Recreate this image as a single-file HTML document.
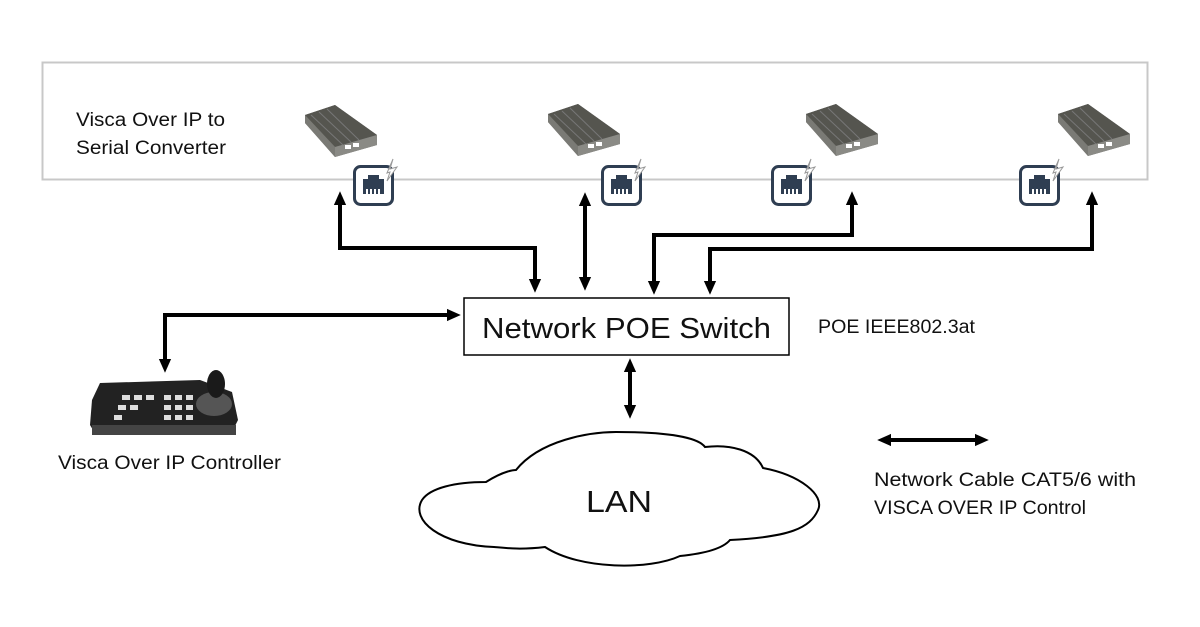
<!DOCTYPE html>
<html><head><meta charset="utf-8"><style>
html,body{margin:0;padding:0;background:#fff;}
svg{display:block;}
text{font-family:"Liberation Sans",sans-serif;fill:#111;}
</style></head><body>
<svg width="1200" height="627" viewBox="0 0 1200 627" xmlns="http://www.w3.org/2000/svg">
<defs>
<marker id="ah" markerWidth="3.5" markerHeight="3.5" refX="1.8" refY="1.75" orient="auto-start-reverse" markerUnits="strokeWidth">
<path d="M0,0.2 L3.5,1.75 L0,3.3 Z" fill="#000"/>
</marker>
<g id="dev">
<polygon points="0,10 30,0 72,30 72,40 30,52 0,18" fill="#6b6b68"/>
<polygon points="0,10 30,0 72,30 30,42" fill="#55554f"/>
<polygon points="30,42 72,30 72,40 30,52" fill="#8a8a85"/>
<polygon points="0,10 30,42 30,52 0,18" fill="#7a7a75"/>
<line x1="6" y1="10" x2="38" y2="40" stroke="#777" stroke-width="1"/>
<line x1="14" y1="7" x2="46" y2="37" stroke="#777" stroke-width="1"/>
<line x1="22" y1="4" x2="54" y2="35" stroke="#777" stroke-width="1"/>
<rect x="40" y="40" width="6" height="4" fill="#fff"/>
<rect x="48" y="38" width="6" height="4" fill="#fff"/>
</g>
<g id="rj">
<rect x="1.5" y="1.5" width="38" height="38" rx="6" fill="#fff" stroke="#2f3e52" stroke-width="3"/>
<path d="M15,10 h11 v4 h5 v15 h-21 v-15 h5 z" fill="#2f3e52"/>
<rect x="13" y="24" width="2" height="5" fill="#fff"/><rect x="17" y="24" width="2" height="5" fill="#fff"/>
<rect x="21" y="24" width="2" height="5" fill="#fff"/><rect x="25" y="24" width="2" height="5" fill="#fff"/>
<path d="M34,8 L40,-6 L37,4 L44,2 L34,16 L37,7 Z" fill="#fff" stroke="#999" stroke-width="1"/>
</g>
</defs>
<rect x="42.5" y="62.5" width="1105" height="117" fill="none" stroke="#c8c8c8" stroke-width="2"/>
<text x="76" y="126" font-size="19" textLength="149" lengthAdjust="spacingAndGlyphs">Visca Over IP to</text>
<text x="76" y="154" font-size="19" textLength="150" lengthAdjust="spacingAndGlyphs">Serial Converter</text>
<use href="#dev" x="305" y="105"/>
<use href="#dev" x="548" y="104"/>
<use href="#dev" x="806" y="104"/>
<use href="#dev" x="1058" y="104"/>
<use href="#rj" x="353" y="165"/>
<use href="#rj" x="601" y="165"/>
<use href="#rj" x="771" y="165"/>
<use href="#rj" x="1019" y="165"/>
<g fill="none" stroke="#000" stroke-width="4">
<polyline points="340,198 340,248 535,248 535,286" marker-start="url(#ah)" marker-end="url(#ah)"/>
<line x1="585" y1="199" x2="585" y2="284" marker-start="url(#ah)" marker-end="url(#ah)"/>
<polyline points="852,198 852,235 654,235 654,288" marker-start="url(#ah)" marker-end="url(#ah)"/>
<polyline points="1092,198 1092,249 710,249 710,288" marker-start="url(#ah)" marker-end="url(#ah)"/>
<polyline points="454,315 165,315 165,366" marker-start="url(#ah)" marker-end="url(#ah)"/>
<line x1="630" y1="365" x2="630" y2="412" marker-start="url(#ah)" marker-end="url(#ah)"/>
<line x1="884" y1="440" x2="982" y2="440" marker-start="url(#ah)" marker-end="url(#ah)"/>
</g>
<rect x="464" y="298" width="325" height="57" fill="#fff" stroke="#000" stroke-width="1.5"/>
<text x="482" y="338" font-size="29" textLength="289" lengthAdjust="spacingAndGlyphs">Network POE Switch</text>
<text x="818" y="333" font-size="19" textLength="157" lengthAdjust="spacingAndGlyphs">POE IEEE802.3at</text>
<path d="M486,482 C505,470 515,470 516,470 C540,440 590,432 616,432 C680,432 700,440 705,447 C730,444 755,450 763,468 C800,475 825,495 818,510 C810,528 790,537 730,540 C720,552 690,555 680,556 C650,570 580,570 545,547 C520,550 505,548 494,547 C440,545 410,520 422,500 C430,488 455,482 486,482 Z" fill="#fff" stroke="#000" stroke-width="2"/>
<text x="586" y="512" font-size="31" textLength="66" lengthAdjust="spacingAndGlyphs">LAN</text>
<g>
<path d="M92,400 L100,383 L200,380 L232,392 L238,420 L232,432 L96,435 L90,425 Z" fill="#222"/>
<rect x="92" y="425" width="144" height="10" fill="#444"/>
<ellipse cx="214" cy="404" rx="18" ry="12" fill="#555"/>
<ellipse cx="216" cy="384" rx="9" ry="14" fill="#1a1a1a"/>
<g fill="#ddd">
<rect x="122" y="395" width="8" height="5"/><rect x="134" y="395" width="8" height="5"/><rect x="146" y="395" width="8" height="5"/><rect x="164" y="395" width="7" height="5"/><rect x="175" y="395" width="7" height="5"/><rect x="186" y="395" width="7" height="5"/>
<rect x="118" y="405" width="8" height="5"/><rect x="130" y="405" width="8" height="5"/><rect x="164" y="405" width="7" height="5"/><rect x="175" y="405" width="7" height="5"/><rect x="186" y="405" width="7" height="5"/>
<rect x="114" y="415" width="8" height="5"/><rect x="164" y="415" width="7" height="5"/><rect x="175" y="415" width="7" height="5"/><rect x="186" y="415" width="7" height="5"/>
</g>
</g>
<text x="58" y="469" font-size="19" textLength="223" lengthAdjust="spacingAndGlyphs">Visca Over IP Controller</text>
<text x="874" y="486" font-size="19" textLength="262" lengthAdjust="spacingAndGlyphs">Network Cable CAT5/6 with</text>
<text x="874" y="514" font-size="19" textLength="212" lengthAdjust="spacingAndGlyphs">VISCA OVER IP Control</text>
</svg>
</body></html>
